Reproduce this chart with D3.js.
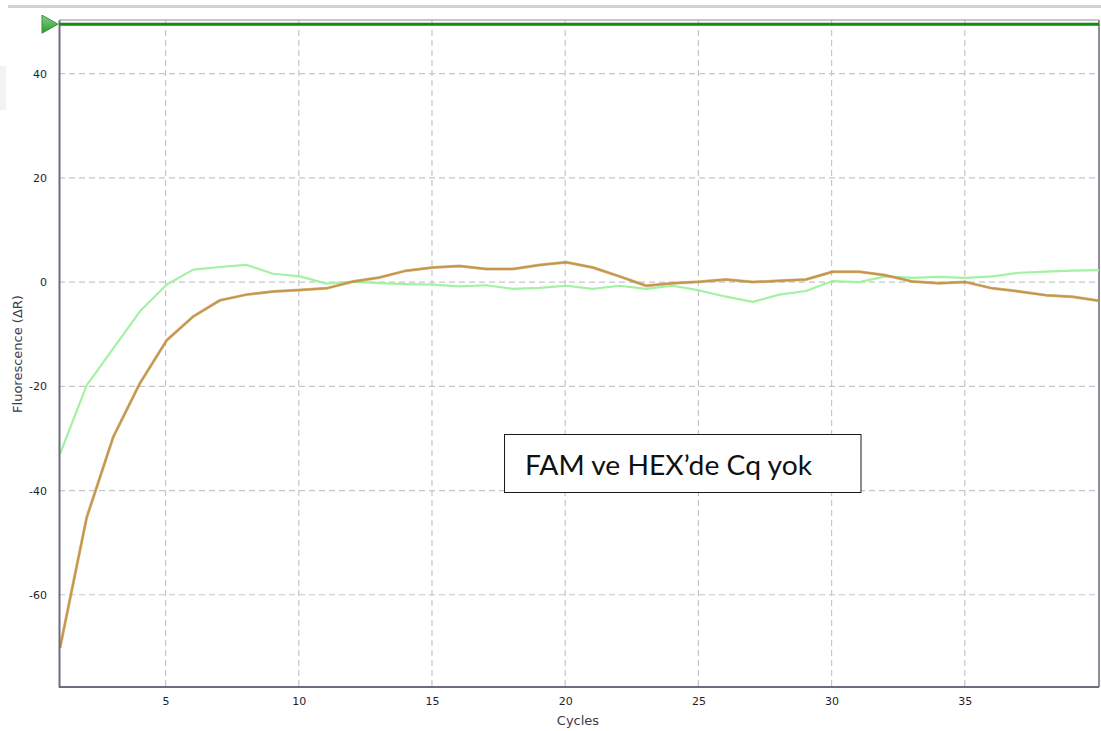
<!DOCTYPE html>
<html>
<head>
<meta charset="utf-8">
<script src="https://cdn.jsdelivr.net/npm/d3@7"></script>
<style>
  html, body { margin: 0; padding: 0; background: #ffffff; }
  svg { display: block; }
</style>
</head>
<body>
<svg id="chart" width="1101" height="731"></svg>
<script>
// Amplification curves (baseline-subtracted fluorescence per cycle)
const cycles = d3.range(1, 41);
const famValues = [
  -33.0, -19.8, -12.7, -5.6, -0.5, 2.4, 2.9, 3.3, 1.6, 1.1,
  -0.3, 0.1, -0.2, -0.4, -0.5, -0.8, -0.6, -1.3, -1.1, -0.7,
  -1.3, -0.7, -1.3, -0.7, -1.6, -2.8, -3.8, -2.4, -1.7, 0.2,
  0.0, 1.1, 0.8, 1.0, 0.8, 1.1, 1.8, 2.0, 2.2, 2.3
];
const hexValues = [
  -70.2, -45.2, -29.7, -19.4, -11.2, -6.6, -3.5, -2.4, -1.8, -1.5,
  -1.2, 0.1, 0.9, 2.2, 2.8, 3.1, 2.5, 2.5, 3.3, 3.8,
  2.8, 1.1, -0.7, -0.2, 0.05, 0.5, 0.0, 0.25, 0.5, 2.0,
  2.0, 1.3, 0.1, -0.2, 0.0, -1.2, -1.8, -2.5, -2.8, -3.6
];
const thresholdValue = 49.5;
const xTicks = [5, 10, 15, 20, 25, 30, 35];
const yTicks = [-60, -40, -20, 0, 20, 40];
const xLabel = "Cycles";
const yLabel = "Fluorescence (ΔR)";
const noteText = "FAM ve HEX’de Cq yok";

const svg = d3.select("#chart");
const plot = { left: 59, right: 1099, top: 20, bottom: 687 };

const x = d3.scaleLinear().domain([1, 40]).range([plot.left + 1, plot.right]);
const y = d3.scaleLinear().domain([-77.7, 50.3]).range([plot.bottom, plot.top]);

const defs = svg.append("defs");
defs.append("clipPath").attr("id", "plotClip").append("rect")
  .attr("x", plot.left).attr("y", plot.top)
  .attr("width", plot.right - plot.left).attr("height", plot.bottom - plot.top);

// window chrome: light separator across the top and a faint patch at the left edge
svg.append("rect").attr("x", 8).attr("y", 5).attr("width", 1093).attr("height", 3).attr("fill", "#d2d2d2");
svg.append("rect").attr("x", 0).attr("y", 66).attr("width", 6).attr("height", 44).attr("fill", "#f3f3f3");

// dashed grid
const grid = svg.append("g");
grid.selectAll("line.v").data(xTicks).join("line")
  .attr("x1", d => x(d) - 1).attr("x2", d => x(d) - 1)
  .attr("y1", plot.top).attr("y2", plot.bottom)
  .attr("stroke", "#c6c6c6").attr("stroke-width", 1.2).attr("stroke-dasharray", "6,4");
grid.selectAll("line.h").data(yTicks).join("line")
  .attr("x1", plot.left).attr("x2", plot.right)
  .attr("y1", d => y(d)).attr("y2", d => y(d))
  .attr("stroke", "#c6c6c6").attr("stroke-width", 1.2).attr("stroke-dasharray", "6,4");

// plot frame
svg.append("line").attr("x1", plot.left).attr("x2", plot.right).attr("y1", plot.top).attr("y2", plot.top)
  .attr("stroke", "#8e8e9c").attr("stroke-width", 1);
svg.append("line").attr("x1", plot.right).attr("x2", plot.right).attr("y1", plot.top).attr("y2", plot.bottom)
  .attr("stroke", "#8e8e9c").attr("stroke-width", 2);

// curves, clipped to the plot area
const line = d3.line().x((d, i) => x(cycles[i])).y(d => y(d));
const curves = svg.append("g").attr("clip-path", "url(#plotClip)");
curves.append("path").datum(famValues).attr("d", line)
  .attr("fill", "none").attr("stroke", "#a3f2a3").attr("stroke-width", 2.2).attr("stroke-linejoin", "round");
curves.append("path").datum(hexValues).attr("d", line)
  .attr("fill", "none").attr("stroke", "#b8893a").attr("stroke-width", 3).attr("stroke-linejoin", "round").attr("opacity", 0.55);
curves.append("path").datum(hexValues).attr("d", line)
  .attr("fill", "none").attr("stroke", "#c6974a").attr("stroke-width", 2).attr("stroke-linejoin", "round");

// axes (tick marks hidden, labels only; plain hyphen for negatives)
const plain = d => String(d);
const xAxis = d3.axisBottom(x).tickValues(xTicks).tickSize(0).tickPadding(10).tickFormat(plain);
const yAxis = d3.axisLeft(y).tickValues(yTicks).tickSize(0).tickPadding(12).tickFormat(plain);

const gx = svg.append("g").attr("transform", `translate(-1,${plot.bottom})`).call(xAxis);
const gy = svg.append("g").attr("transform", `translate(${plot.left},0)`).call(yAxis);
gx.select(".domain").remove();
svg.append("line").attr("x1", plot.left).attr("x2", plot.right).attr("y1", plot.bottom).attr("y2", plot.bottom)
  .attr("stroke", "#6c6c7c").attr("stroke-width", 2);
gy.select(".domain").attr("stroke", "#6c6c7c").attr("stroke-width", 2);
[gx, gy].forEach(g => {
  g.selectAll("text").attr("font-family", "'DejaVu Sans', Verdana, sans-serif")
    .attr("font-size", 11).attr("fill", "#1e1e30");
});

svg.append("text").attr("x", 578).attr("y", 725).attr("text-anchor", "middle")
  .attr("font-family", "'DejaVu Sans', Verdana, sans-serif").attr("font-size", 13).attr("fill", "#3a3a4a")
  .text(xLabel);
svg.append("text").attr("transform", "translate(22,354) rotate(-90)").attr("text-anchor", "middle")
  .attr("font-family", "'DejaVu Sans', Verdana, sans-serif").attr("font-size", 13).attr("fill", "#3a3a4a")
  .text(yLabel);

// threshold line with its handle
svg.append("line").attr("x1", plot.left).attr("x2", plot.right)
  .attr("y1", y(thresholdValue)).attr("y2", y(thresholdValue))
  .attr("stroke", "#118a11").attr("stroke-width", 3);
const grad = defs.append("linearGradient").attr("id", "handleFill").attr("x1", 0).attr("x2", 0).attr("y1", 0).attr("y2", 1);
grad.append("stop").attr("offset", "0%").attr("stop-color", "#7fd37f");
grad.append("stop").attr("offset", "100%").attr("stop-color", "#2f9a2f");
const ty = y(thresholdValue);
svg.append("path")
  .attr("d", `M${plot.left - 17},${ty - 9} L${plot.left - 1},${ty} L${plot.left - 17},${ty + 9} Z`)
  .attr("fill", "url(#handleFill)").attr("stroke", "#3a8f3a").attr("stroke-width", 1);

// annotation box
svg.append("rect").attr("x", 504.5).attr("y", 434.5).attr("width", 356.5).attr("height", 58)
  .attr("fill", "#ffffff").attr("stroke", "#1a1a1a").attr("stroke-width", 1);
svg.append("text").attr("x", 525).attr("y", 475)
  .attr("font-family", "Lato, 'Open Sans', sans-serif").attr("font-size", 26).attr("fill", "#111111")
  .attr("textLength", 287).attr("lengthAdjust", "spacingAndGlyphs")
  .text(noteText);
</script>
</body>
</html>
